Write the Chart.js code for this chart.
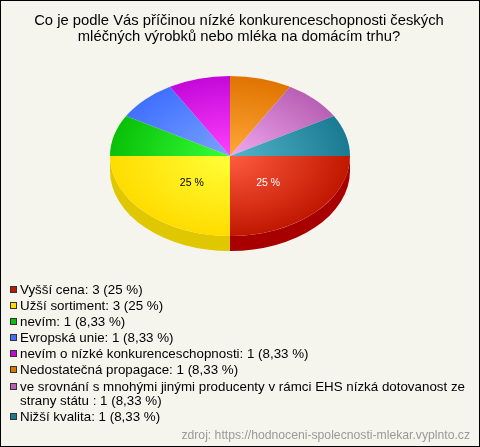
<!DOCTYPE html>
<html lang="cs">
<head>
<meta charset="utf-8">
<title>Graf</title>
<script src="https://cdn.jsdelivr.net/npm/chart.js@4/dist/chart.umd.min.js"></script>
<style>
    html, body { margin: 0; padding: 0; }
    body { width: 480px; height: 447px; overflow: hidden; font-family: "Liberation Sans", Arial, sans-serif; }
    #box { position: relative; width: 478px; height: 445px; border: 1px solid #000; background: #f5f5ee; }
    #pie { position: absolute; left: -1px; top: -1px; }
    #title { position: absolute; left: 0; top: 12px; width: 476px; text-align: center; font-size: 14.8px; line-height: 15.5px; color: #000; }
    #legend { position: absolute; left: 19px; top: 282px; width: 452px; font-size: 13.35px; line-height: 14px; color: #000; }
    #legend div { position: relative; margin-bottom: 2.1px; }
    #legend i { position: absolute; left: -10px; top: 3px; width: 5px; height: 5px; border: 1px solid #333; }
    #source { position: absolute; right: 9px; top: 427px; font-size: 12.2px; line-height: 14px; color: #999; }
</style>
</head>
<body>
<div id="box">
    <canvas id="pie" width="480" height="447"></canvas>
    <div id="title">Co je podle Vás příčinou nízké konkurenceschopnosti českých<br>mléčných výrobků nebo mléka na domácím trhu?</div>
    <div id="legend"></div>
    <div id="source">zdroj: https://hodnoceni-spolecnosti-mlekar.vyplnto.cz</div>
</div>
<script>
const categories = [
    'Vyšší cena',
    'Užší sortiment',
    'nevím',
    'Evropská unie',
    'nevím o nízké konkurenceschopnosti',
    'Nedostatečná propagace',
    've srovnání s mnohými jinými producenty v rámci EHS nízká dotovanost ze strany státu ',
    'Nižší kvalita'
];
const counts = [3, 3, 1, 1, 1, 1, 1, 1];
const percents = ['25', '25', '8,33', '8,33', '8,33', '8,33', '8,33', '8,33'];

// barvy: stred vysece, okraj vysece, bocni stena
const innerColors = ['#ff5c40', '#ffff38', '#38ff38', '#7aa2ff', '#ff40ff', '#ffa838', '#f0a8f0', '#54b4cc'];
const outerColors = ['#c01800', '#ffdc00', '#08c008', '#4070ff', '#c408d8', '#e07400', '#b860b4', '#1a7a92'];
const wallColors = ['#a80000', '#e0c800', '#08a008', '#3060d0', '#a008b0', '#c06000', '#a05098', '#186a80'];
const labelColors = ['#ffffff', '#000000'];

const squash = 2 / 3;
const depth = 15;

function sliceFill(context) {
    const chart = context.chart;
    const i = context.dataIndex;
    if (!chart.chartArea) return outerColors[i];
    const a = chart.chartArea;
    const cx = (a.left + a.right) / 2;
    const cy = (a.top + a.bottom) / 2;
    const g = chart.ctx.createRadialGradient(cx, cy, 0, cx, cy, (a.right - a.left) / 2);
    g.addColorStop(0, innerColors[i]);
    g.addColorStop(1, outerColors[i]);
    return g;
}

// z kolace udela elipsu a prida bocni stenu
const tiltPlugin = {
    id: 'tilt',
    beforeDatasetsDraw(chart) {
        const ctx = chart.ctx;
        chart.getDatasetMeta(0).data.forEach((arc, i) => {
            const from = Math.max(arc.startAngle, 0);
            const to = Math.min(arc.endAngle, Math.PI);
            if (to <= from) return;
            const ry = arc.outerRadius * squash;
            ctx.beginPath();
            ctx.ellipse(arc.x, arc.y + depth, arc.outerRadius, ry, 0, from, to);
            ctx.ellipse(arc.x, arc.y, arc.outerRadius, ry, 0, to, from, true);
            ctx.closePath();
            ctx.fillStyle = wallColors[i];
            ctx.fill();
        });
        const first = chart.getDatasetMeta(0).data[0];
        ctx.save();
        ctx.translate(first.x, first.y);
        ctx.scale(1, squash);
        ctx.translate(-first.x, -first.y);
    },
    afterDatasetsDraw(chart) {
        const ctx = chart.ctx;
        ctx.restore();
        ctx.font = '10.5px "Liberation Sans", Arial, sans-serif';
        ctx.textAlign = 'center';
        ctx.textBaseline = 'middle';
        labelColors.forEach((color, i) => {
            const arc = chart.getDatasetMeta(0).data[i];
            const mid = (arc.startAngle + arc.endAngle) / 2;
            const r = arc.outerRadius * 0.45;
            ctx.fillStyle = color;
            ctx.fillText(percents[i] + ' %', arc.x + Math.cos(mid) * r, arc.y + Math.sin(mid) * r * squash + 2);
        });
    }
};

new Chart(document.getElementById('pie').getContext('2d'), {
    type: 'pie',
    data: {
        labels: categories,
        datasets: [{
            data: counts,
            backgroundColor: sliceFill,
            borderWidth: 0
        }]
    },
    options: {
        responsive: false,
        animation: false,
        rotation: 90,
        layout: { padding: { left: 110, right: 130, top: 36, bottom: 171 } },
        plugins: {
            legend: { display: false },
            title: { display: false },
            tooltip: { enabled: false }
        }
    },
    plugins: [tiltPlugin]
});

const legend = document.getElementById('legend');
categories.forEach((name, i) => {
    const row = document.createElement('div');
    const mark = document.createElement('i');
    mark.style.background = outerColors[i];
    row.appendChild(mark);
    row.appendChild(document.createTextNode(`${name}: ${counts[i]} (${percents[i]} %)`));
    legend.appendChild(row);
});
</script>
</body>
</html>
